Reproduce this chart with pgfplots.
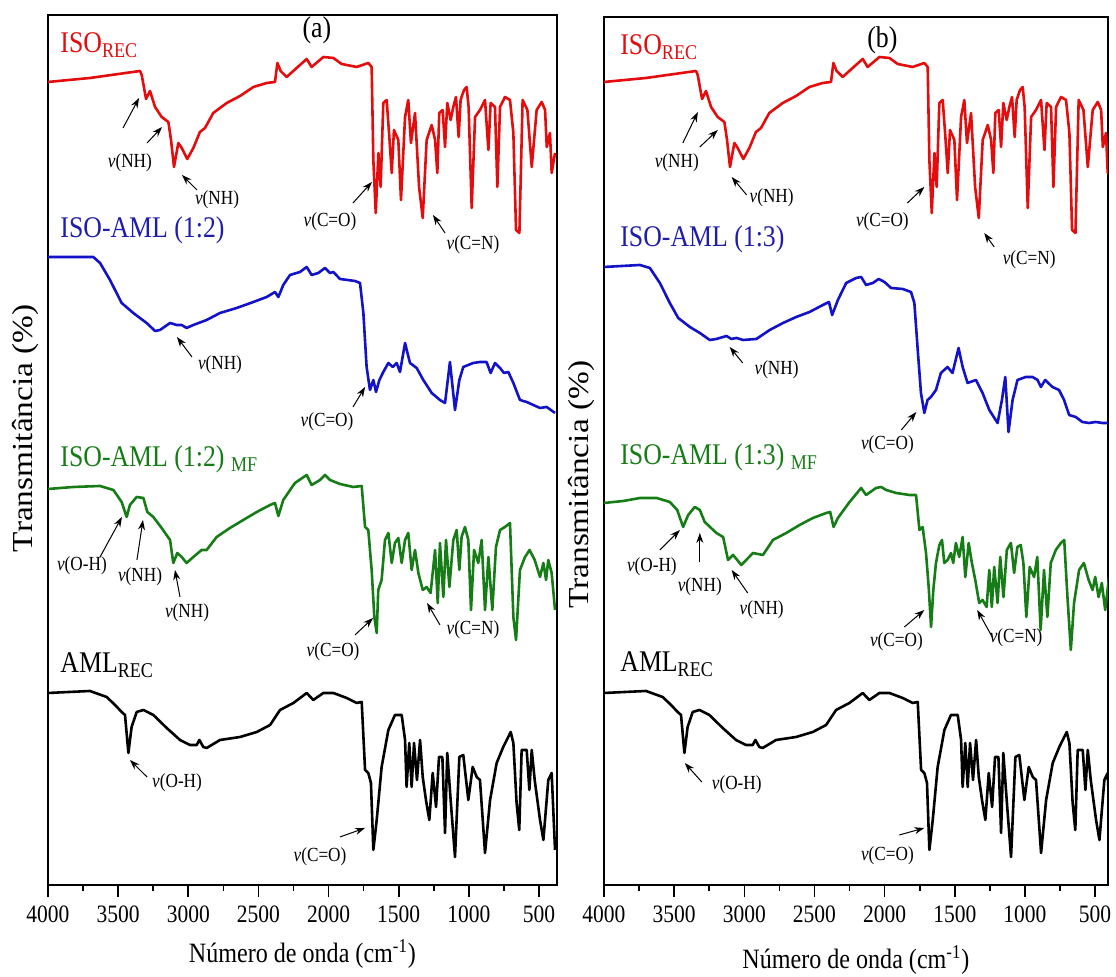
\documentclass[border=0pt]{standalone}
\usepackage{fontspec}
\setmainfont{Liberation Serif}[FakeStretch=0.86]
\newfontfamily\ylabfont{Liberation Serif}[FakeStretch=1.15]
\usepackage{pgfplots}
\usepackage{pgfplotstable}
\pgfplotsset{compat=1.18}
\usetikzlibrary{arrows.meta}
\definecolor{cred}{RGB}{228,12,12}
\definecolor{cblue}{RGB}{18,18,200}
\definecolor{cbluet}{RGB}{30,30,170}
\definecolor{cgreen}{RGB}{22,125,22}
\newcommand{\nuv}{\textit{v}}
\tikzset{
  lab/.style={font=\fontsize{10}{12}\selectfont, inner sep=0pt},
  ttl/.style={font=\fontsize{15}{17}\selectfont, inner sep=0pt, anchor=base west},
  arr/.style={-{Stealth[length=5pt,width=3.5pt]}, line width=0.5pt, black},
}

\pgfplotstableread{
x y
4000 803
3701 807
3344 814
3332 810
3301 786
3273 794
3237 778
3190 768
3142 763
3123 745
3102 718
3071 742
3047 737
3007 726
2964 737
2917 753
2881 757
2822 772
2726 782
2631 789
2536 798
2441 802
2382 803
2365 822
2342 814
2299 808
2228 817
2156 826
2121 818
2037 828
1966 827
1907 821
1800 818
1717 822
1693 818
1681 725
1664 672
1645 732
1629 698
1610 782
1586 785
1567 748
1550 712
1534 755
1503 745
1484 685
1455 768
1432 785
1413 742
1384 772
1355 698
1329 667
1301 745
1265 760
1241 745
1225 712
1211 772
1187 775
1170 738
1154 782
1130 765
1111 778
1092 788
1073 748
1059 785
1035 795
1016 798
1002 778
980 677
956 768
921 775
885 785
861 735
845 782
814 778
797 698
778 778
743 788
707 785
683 752
664 655
640 652
617 785
583 775
552 718
517 775
481 783
457 775
445 738
422 752
410 712
386 732
}\redtab

\pgfplotstableread{
x y
4000 628
3677 628
3629 622
3558 605
3475 582
3392 572
3297 562
3237 554
3202 555
3130 562
3083 560
3047 560
3012 557
2964 560
2869 565
2774 572
2655 577
2536 583
2441 588
2382 593
2358 588
2323 600
2275 610
2204 613
2156 618
2121 610
2073 612
2026 617
1990 612
1966 613
1919 606
1812 604
1776 602
1752 572
1729 518
1705 495
1681 505
1662 493
1638 505
1610 513
1574 522
1543 518
1515 522
1491 513
1455 542
1420 522
1372 517
1325 505
1265 492
1206 485
1170 482
1135 523
1099 475
1068 505
1040 518
969 522
921 523
874 523
845 512
814 522
778 517
750 512
719 513
683 502
636 485
588 483
541 480
493 477
446 478
386 472
}\blueatab

\pgfplotstableread{
x y
4000 396
3819 398
3629 399
3534 395
3475 383
3439 368
3416 380
3368 388
3320 387
3292 373
3249 368
3190 357
3130 345
3107 322
3078 332
3047 328
3012 322
2964 328
2905 335
2869 335
2798 348
2703 357
2608 365
2512 373
2417 380
2382 382
2358 369
2323 385
2240 402
2156 410
2121 400
2061 405
2026 410
1990 405
1919 401
1824 398
1764 399
1740 358
1717 355
1693 315
1674 268
1657 252
1646 295
1622 305
1598 345
1574 352
1550 322
1527 342
1503 347
1479 322
1455 345
1432 352
1408 315
1384 335
1360 312
1329 295
1301 298
1273 292
1241 335
1222 282
1206 342
1182 288
1163 345
1139 298
1111 345
1087 355
1068 315
1052 348
1028 358
1004 345
985 275
963 335
933 322
909 345
885 275
861 328
833 275
807 338
778 355
743 358
707 362
683 268
664 245
636 315
600 328
567 335
531 325
493 308
469 322
450 305
434 325
410 312
386 275
}\greenatab

\pgfplotstableread{
x y
4000 192
3701 194
3582 188
3522 180
3475 173
3451 170
3427 132
3404 158
3368 173
3320 175
3249 170
3154 157
3059 145
2988 140
2940 140
2921 145
2893 138
2869 137
2774 145
2631 148
2512 153
2417 160
2346 175
2251 182
2156 192
2109 185
2037 192
1966 192
1871 187
1800 182
1764 183
1740 115
1717 112
1698 102
1681 35
1657 65
1622 118
1574 155
1527 170
1479 170
1455 145
1444 98
1425 142
1408 98
1391 142
1370 105
1348 145
1329 108
1306 85
1282 65
1258 112
1234 78
1213 128
1189 128
1170 52
1154 132
1130 85
1099 28
1068 128
1040 130
1004 85
973 118
944 108
921 105
885 32
849 85
802 122
755 138
702 153
683 142
660 82
641 55
624 135
588 135
569 95
552 135
531 105
493 65
469 45
434 105
410 112
386 35
}\blacktab

\pgfplotstableread{
x y
4000 618
3744 620
3673 617
3602 602
3531 582
3471 567
3388 558
3317 552
3246 545
3199 546
3127 549
3092 546
3056 547
3009 545
2914 546
2819 555
2724 562
2630 568
2535 573
2440 580
2397 583
2374 570
2333 585
2274 602
2203 607
2167 608
2132 600
2084 602
2042 606
2001 603
1954 597
1871 596
1812 593
1788 582
1764 535
1741 492
1717 472
1694 485
1670 488
1634 495
1599 512
1552 518
1516 512
1473 537
1444 518
1409 502
1349 505
1302 492
1254 475
1195 462
1164 485
1140 508
1117 453
1088 485
1053 505
994 508
946 508
910 505
886 498
856 505
804 498
757 495
721 485
685 470
638 468
591 463
543 462
496 463
448 462
400 462
}\bluebtab

\pgfplotstableread{
x y
4000 382
3862 384
3744 387
3625 387
3531 383
3478 375
3436 358
3400 370
3353 378
3317 375
3282 363
3199 352
3151 348
3116 325
3080 330
3021 320
2938 332
2867 330
2796 345
2701 352
2606 360
2511 367
2416 372
2388 373
2364 358
2333 367
2250 383
2167 397
2132 390
2061 397
2025 398
1989 395
1918 392
1823 390
1776 390
1752 355
1729 358
1705 332
1686 298
1669 258
1653 295
1634 322
1610 340
1591 345
1575 322
1551 325
1527 332
1511 322
1492 342
1468 328
1444 348
1425 308
1401 342
1378 322
1354 305
1326 282
1302 285
1273 278
1254 315
1236 278
1219 318
1195 282
1176 328
1153 288
1129 335
1100 342
1077 312
1054 338
1030 340
1011 322
990 268
966 318
935 308
912 328
888 255
864 315
840 268
816 322
780 335
744 342
720 345
697 288
673 235
650 282
614 315
580 322
546 305
518 295
499 308
475 288
452 302
428 275
400 308
}\greenbtab

\pgfplotsset{
  ftir/.style={
    scale only axis,
    x dir=reverse, xmax=4000,
    ymin=0,
    xtick={500,1000,...,4000}, minor x tick num=1,
    ytick=\empty,
    xtick pos=left,
    tick align=outside,
    major tick length=6pt, minor tick length=3pt,
    axis line style={line width=0.9pt},
    every tick/.style={black, line width=0.8pt},
    /pgf/number format/1000 sep={},
    /pgf/number format/assume math mode=true,
    x tick label style={font=\fontsize{12.5}{14}\selectfont, yshift=-1pt},
    xlabel={Número de onda (cm\textsuperscript{-1})},
    every axis x label/.style={at={(axis description cs:0.5,0)}, anchor=base, font=\fontsize{14}{16}\selectfont},
    ylabel={{\ylabfont\fontsize{14.5}{16}\selectfont Transmitância (\%)}},
    every axis plot/.append style={line width=1.3pt, line join=round, no markers},
  }
}

\begin{document}
\begin{tikzpicture}
% ---------------- panel (a)
\begin{axis}[ftir, width=254.5pt, height=435pt, xmin=372, ymax=870,
  every axis x label/.append style={yshift=-39pt},
  every axis y label/.style={at={(axis description cs:-0.045,0.525)}, rotate=90, anchor=center}]
\addplot[cred] table[x=x,y=y] {\redtab};
\addplot[cblue] table[x=x,y=y] {\blueatab};
\addplot[cgreen] table[x=x,y=y] {\greenatab};
\addplot[black] table[x=x,y=y] {\blacktab};
% red annotations
\draw[arr] (3465,757) -- (3351,787);
\draw[arr] (3294,742) -- (3187,758);
\node[lab] at (3416,722) {\nuv(NH)};
\draw[arr] (2938,695) -- (3045,710);
\node[lab] at (2795,685) {\nuv(NH)};
\draw[arr] (1826,682) -- (1691,703);
\node[lab] at (1990,663) {\nuv(C=O)};
\draw[arr] (1170,652) -- (1256,670);
\node[lab] at (971,640) {\nuv(C=N)};
\node[ttl, text=cred] at (3914,832) {ISO\textsubscript{REC}};
\node[font=\fontsize{15}{17}\selectfont, inner sep=0pt, anchor=base] at (2083,847) {(a)};
\node[ttl, text=cbluet] at (3914,647) {ISO-AML (1:2)};
% blue
\draw[arr] (2974,528) -- (3081,548);
\node[lab] at (2774,520) {\nuv(NH)};
\draw[arr] (1826,478) -- (1740,498);
\node[lab] at (2011,463) {\nuv(C=O)};
% green
\node[ttl, text=cgreen] at (3914,418) {ISO-AML (1:2) \textsubscript{MF}};
\draw[arr] (3629,328) -- (3473,368);
\node[lab] at (3758,319) {\nuv(O-H)};
\draw[arr] (3366,325) -- (3323,365);
\node[lab] at (3344,308) {\nuv(NH)};
\draw[arr] (3059,288) -- (3095,315);
\node[lab] at (3009,272) {\nuv(NH)};
\draw[arr] (1812,250) -- (1683,267);
\node[lab] at (1968,233) {\nuv(C=O)};
\draw[arr] (1206,260) -- (1298,282);
\node[lab] at (971,255) {\nuv(C=N)};
% black
\node[ttl] at (3914,212) {AML\textsubscript{REC}};
\draw[arr] (3294,108) -- (3416,125);
\node[lab] at (3080,102) {\nuv(O-H)};
\draw[arr] (1919,48) -- (1740,57);
\node[lab] at (2061,28) {\nuv(C=O)};
\end{axis}
% ---------------- panel (b)
\begin{axis}[ftir, at={(278pt,0pt)}, width=252pt, height=434pt, xmin=408, ymax=868,
  every axis x label/.append style={yshift=-42pt},
  every axis y label/.style={at={(axis description cs:-0.0455,0.461)}, rotate=90, anchor=center}]
\addplot[cred] table[x=x,y=y] {\redtab};
\addplot[cblue] table[x=x,y=y] {\bluebtab};
\addplot[cgreen] table[x=x,y=y] {\greenbtab};
\addplot[black] table[x=x,y=y] {\blacktab};
\draw[arr] (3438,742) -- (3331,773);
\draw[arr] (3317,738) -- (3189,755);
\node[lab] at (3481,722) {\nuv(NH)};
\draw[arr] (2983,690) -- (3090,708);
\node[lab] at (2805,687) {\nuv(NH)};
\draw[arr] (1838,682) -- (1717,698);
\node[lab] at (2016,663) {\nuv(C=O)};
\draw[arr] (1219,638) -- (1290,652);
\node[lab] at (970,625) {\nuv(C=N)};
\node[ttl, text=cred] at (3886,830) {ISO\textsubscript{REC}};
\node[font=\fontsize{15}{17}\selectfont, inner sep=0pt, anchor=base] at (2016,837) {(b)};
\node[ttl, text=cbluet] at (3886,638) {ISO-AML (1:3)};
\draw[arr] (3011,522) -- (3104,538);
\node[lab] at (2770,515) {\nuv(NH)};
\draw[arr] (1881,455) -- (1774,473);
\node[lab] at (1980,440) {\nuv(C=O)};
\node[ttl, text=cgreen] at (3886,420) {ISO-AML (1:3) \textsubscript{MF}};
\draw[arr] (3602,335) -- (3459,355);
\node[lab] at (3659,318) {\nuv(O-H)};
\draw[arr] (3317,323) -- (3317,352);
\node[lab] at (3317,298) {\nuv(NH)};
\draw[arr] (2976,292) -- (3090,315);
\node[lab] at (2876,275) {\nuv(NH)};
\draw[arr] (1859,258) -- (1717,275);
\node[lab] at (1916,243) {\nuv(C=O)};
\draw[arr] (1233,248) -- (1340,275);
\node[lab] at (1063,247) {\nuv(C=N)};
\node[ttl] at (3886,213) {AML\textsubscript{REC}};
\draw[arr] (3303,103) -- (3424,122);
\node[lab] at (3054,100) {\nuv(O-H)};
\draw[arr] (1895,50) -- (1717,57);
\node[lab] at (1980,29) {\nuv(C=O)};
\end{axis}
\pgfresetboundingbox
\useasboundingbox (-24pt,-46pt) rectangle (534pt,442.5pt);
\end{tikzpicture}
\end{document}
